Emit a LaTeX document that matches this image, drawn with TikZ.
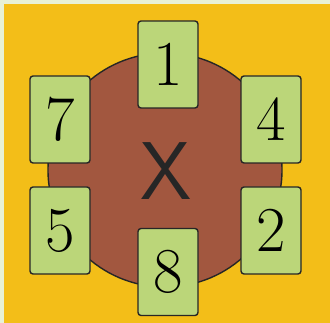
\documentclass[tikz,border=0pt]{standalone}
\usepackage{tikz}

\definecolor{rim}{HTML}{E8F1D6}
\definecolor{gold}{HTML}{F3BE18}
\definecolor{table}{HTML}{A2573F}
\definecolor{leaf}{HTML}{BBD679}

\tikzset{
	card/.style={draw=black!85, line width=1.4pt, fill=leaf, rounded corners=3pt,
		minimum width=60pt, minimum height=87pt, inner sep=0pt, font=\fontsize{64}{64}\selectfont}
}

\begin{document}
\begin{tikzpicture}[x=1pt, y=-1pt]
	\fill[rim] (0,0) rectangle (330,323);
	\fill[gold] (4,4) rectangle (330,323);
	\draw[line width=1.4pt, black!85, fill=table] (165,170) circle (117pt);
	\node[font=\sffamily\fontsize{82}{82}\selectfont, text=black!85] (mid) at (166,171) {X};
	\node[card] (c1) at (168,64.5) {1};
	\node[card] (c7) at (60,119.5) {7};
	\node[card] (c4) at (271,119.5) {4};
	\node[card] (c5) at (60,230.5) {5};
	\node[card] (c2) at (271,230.5) {2};
	\node[card] (c8) at (168,272) {8};
	\useasboundingbox (0,0) rectangle (330,323);
\end{tikzpicture}
\end{document}
